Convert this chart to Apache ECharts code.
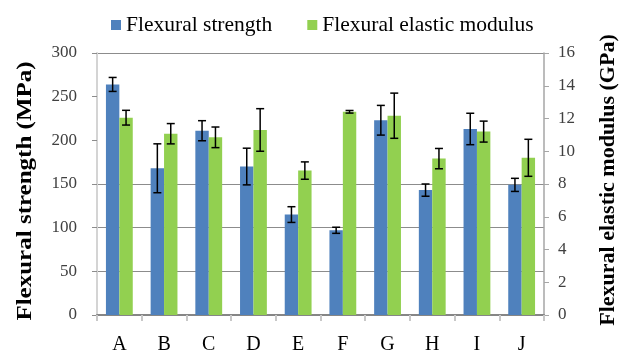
<!DOCTYPE html>
<html>
<head>
<meta charset="utf-8">
<script src="https://cdn.jsdelivr.net/npm/echarts@6/dist/echarts.min.js"></script>
<style>html,body{margin:0;padding:0;background:#fff;}#c{width:624px;height:358px;}</style>
</head>
<body>
<div id="c"></div>
<script>
const categories = ['A', 'B', 'C', 'D', 'E', 'F', 'G', 'H', 'I', 'J'];
const strength = [264, 168, 211, 170, 115, 97, 223, 143, 213, 149];
const strengthErr = [8, 28, 11.5, 21, 9, 3.5, 17, 7, 18, 7.5];
const modulus = [12.05, 11.07, 10.85, 11.3, 8.82, 12.41, 12.17, 9.55, 11.2, 9.6];
const modulusErr = [0.45, 0.62, 0.63, 1.3, 0.53, 0.08, 1.38, 0.62, 0.64, 1.13];
const leftTicks = [0, 300, 50];   // min, max, interval
const rightTicks = [0, 16, 2];

const FONT = 'Liberation Serif';
const BLUE = '#4F81BD', GREEN = '#92D050';
const BAR_FRAC = 0.3;

function errRenderer(sign) {
  return function (params, api) {
    const idx = api.value(0), v = api.value(1), e = api.value(2);
    const band = api.size([1, 0])[0];
    const off = sign * band * BAR_FRAC / 2;
    const top = api.coord([idx, v + e]);
    const bot = api.coord([idx, v - e]);
    const x = top[0] + off;
    const cap = 4;
    const style = { stroke: '#000', lineWidth: 1.5 };
    return {
      type: 'group',
      children: [
        { type: 'line', shape: { x1: x, y1: top[1], x2: x, y2: bot[1] }, style },
        { type: 'line', shape: { x1: x - cap, y1: top[1], x2: x + cap, y2: top[1] }, style },
        { type: 'line', shape: { x1: x - cap, y1: bot[1], x2: x + cap, y2: bot[1] }, style }
      ]
    };
  };
}

const chart = echarts.init(document.getElementById('c'), null, { renderer: 'canvas' });
chart.setOption({
  animation: false,
  backgroundColor: '#fff',
  textStyle: { fontFamily: FONT },
  grid: { left: 97, right: 80, top: 53, bottom: 43, containLabel: false },
  legend: {
    left: 106, top: 9,
    itemWidth: 10, itemHeight: 10, itemGap: 35,
    icon: 'rect',
    textStyle: { fontFamily: FONT, fontSize: 21.5, color: '#000' },
    data: ['Flexural strength', 'Flexural elastic modulus']
  },
  xAxis: {
    type: 'category',
    data: categories,
    axisLine: { lineStyle: { color: '#868686', width: 2 } },
    axisTick: { show: true, length: 6, lineStyle: { color: '#c8c8c8', width: 2 } },
    axisLabel: { fontFamily: FONT, fontSize: 20, color: '#000', margin: 20 }
  },
  yAxis: [
    {
      type: 'value', min: leftTicks[0], max: leftTicks[1], interval: leftTicks[2],
      axisLine: { show: true, lineStyle: { color: '#d4d4d4', width: 2 } },
      axisTick: { show: true, length: 5, lineStyle: { color: '#8c8c8c' } },
      axisLabel: { fontFamily: FONT, fontSize: 17, color: '#404040', margin: 20 },
      splitLine: { show: true, lineStyle: { color: ['#8c8c8c', '#8c8c8c', '#8c8c8c', '#8c8c8c', 'rgba(0,0,0,0)', 'rgba(0,0,0,0)', '#8c8c8c'], width: 1 } }
    },
    {
      type: 'value', min: rightTicks[0], max: rightTicks[1], interval: rightTicks[2],
      position: 'right',
      axisLine: { show: true, lineStyle: { color: '#a6a6a6', width: 1.5 } },
      axisTick: { show: true, length: 5, lineStyle: { color: '#a6a6a6' } },
      axisLabel: { fontFamily: FONT, fontSize: 17, color: '#404040', margin: 14 },
      splitLine: { show: false }
    }
  ],
  graphic: [
    {
      type: 'text', x: 26, y: 191, rotation: Math.PI / 2, scaleX: 1.25,
      style: { text: 'Flexural strength (MPa)', font: 'bold 20px "Liberation Serif"', fill: '#000', align: 'center', verticalAlign: 'middle' }
    },
    {
      type: 'text', x: 609, y: 180, rotation: Math.PI / 2, scaleX: 1.1,
      style: { text: 'Flexural elastic modulus (GPa)', font: 'bold 20px "Liberation Serif"', fill: '#000', align: 'center', verticalAlign: 'middle' }
    }
  ],
  series: [
    {
      name: 'Flexural strength', type: 'bar', yAxisIndex: 0,
      barWidth: (BAR_FRAC * 100) + '%', barGap: '0%',
      itemStyle: { color: BLUE },
      data: strength
    },
    {
      name: 'Flexural elastic modulus', type: 'bar', yAxisIndex: 1,
      barWidth: (BAR_FRAC * 100) + '%', barGap: '0%',
      itemStyle: { color: GREEN },
      data: modulus
    },
    {
      type: 'custom', yAxisIndex: 0, z: 10, silent: true,
      renderItem: errRenderer(-1),
      data: strength.map((v, i) => [i, v, strengthErr[i]])
    },
    {
      type: 'custom', yAxisIndex: 1, z: 10, silent: true,
      renderItem: errRenderer(1),
      data: modulus.map((v, i) => [i, v, modulusErr[i]])
    }
  ]
});
</script>
</body>
</html>
